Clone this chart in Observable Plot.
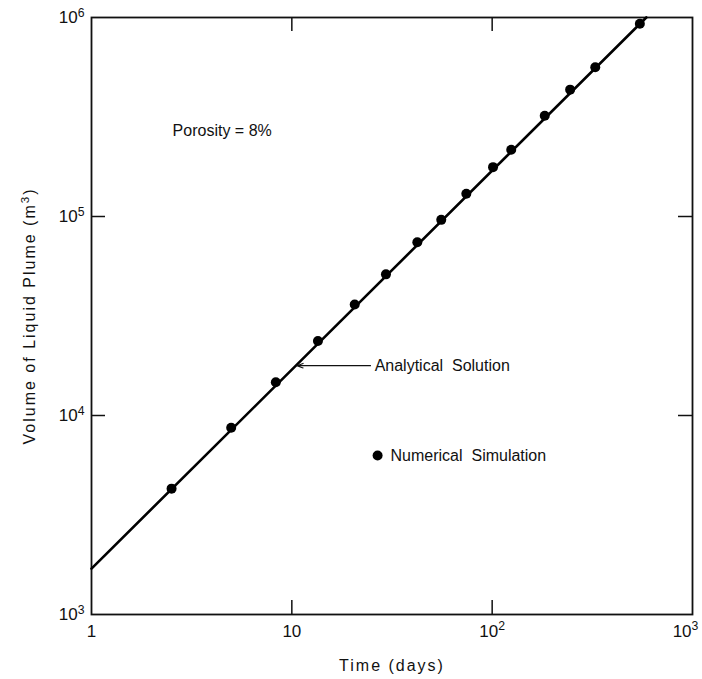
<!DOCTYPE html>
<html>
<head>
<meta charset="utf-8">
<script src="https://cdn.jsdelivr.net/npm/d3@7"></script>
<script src="https://cdn.jsdelivr.net/npm/@observablehq/plot@0.6"></script>
<style>
  html, body { margin: 0; padding: 0; background: #fff; }
</style>
</head>
<body>
<div id="chart"></div>
<script>
// ---- data ----
const xTickValues = [1, 10, 100, 1000];
const xTickLabels = ["1", "10", "10{2}", "10{3}"];
const yTickValues = [1e3, 1e4, 1e5, 1e6];
const yTickLabels = ["10{3}", "10{4}", "10{5}", "10{6}"];
const xInnerTicks = [10, 100];
const yInnerTicks = [1e4, 1e5];

// analytical solution (straight line on log-log)
const analyticalTime = [1, 588];
const analyticalVolume = [1700, 1.0e6];

// numerical simulation points
const numericalTime = [2.51, 4.98, 8.32, 13.5, 20.6, 29.5, 42.3, 55.7, 74.3, 101, 124.5, 183, 245, 327, 546];
const numericalVolume = [4290, 8670, 14700, 23700, 36100, 51200, 74300, 96200, 130000, 177000, 216500, 321000, 434000, 562000, 930000];

// annotations
const annotationText = ["Porosity = 8%", "Analytical  Solution", "Numerical  Simulation"];
const annotationTime = [2.54, 25.9, 31.1];
const annotationVolume = [270000, 17800, 6300];
const arrowFrom = {t: 24.7, v: 17800};
const arrowTo = {t: 10.6, v: 17800};
const legendDot = {t: 26.8, v: 6300};

// ---- build ----
const analytical = analyticalTime.map((t, i) => ({t, v: analyticalVolume[i]}));
const numerical = numericalTime.map((t, i) => ({t, v: numericalVolume[i]}));
const annotations = annotationText.map((text, i) => ({text, t: annotationTime[i], v: annotationVolume[i]}));

const chart = Plot.plot({
  width: 702,
  height: 679,
  marginLeft: 91,
  marginRight: 10,
  marginTop: 17,
  marginBottom: 65,
  style: {fontFamily: "'Liberation Sans', Arial, Helvetica, sans-serif", fontSize: "16px", background: "#fff", color: "#111"},
  x: {type: "log", domain: [1, 1000]},
  y: {type: "log", domain: [1e3, 1e6]},
  marks: [
    Plot.axisX({ticks: xTickValues, tickFormat: (d) => xTickLabels[xTickValues.indexOf(d)], tickSize: 0, tickPadding: 10,
      label: "Time (days)", labelAnchor: "center", labelArrow: "none", labelOffset: 56, fontSize: 17}),
    Plot.axisY({ticks: yTickValues, tickFormat: (d) => yTickLabels[yTickValues.indexOf(d)], tickSize: 0, tickPadding: 7,
      label: "Volume of Liquid Plume (m{3})", labelAnchor: "center", labelArrow: "none", labelOffset: 68, fontSize: 17}),
    // inward ticks
    Plot.tickX(xInnerTicks, {x: (d) => d, insetTop: 583, stroke: "#111", strokeWidth: 1.5}),
    Plot.tickX(xInnerTicks, {x: (d) => d, insetBottom: 583, stroke: "#111", strokeWidth: 1.5}),
    Plot.tickY(yInnerTicks, {y: (d) => d, insetRight: 587, stroke: "#111", strokeWidth: 1.5}),
    Plot.tickY(yInnerTicks, {y: (d) => d, insetLeft: 587, stroke: "#111", strokeWidth: 1.5}),
    Plot.frame({stroke: "#111", strokeWidth: 1.8}),
    Plot.line(analytical, {x: "t", y: "v", stroke: "#000", strokeWidth: 2.6}),
    Plot.dot(numerical, {x: "t", y: "v", r: 5, fill: "#000", stroke: "none"}),
    Plot.arrow([{x1: arrowFrom.t, y1: arrowFrom.v, x2: arrowTo.t, y2: arrowTo.v}],
      {x1: "x1", y1: "y1", x2: "x2", y2: "y2", stroke: "#111", strokeWidth: 1.1, headLength: 9, headAngle: 40}),
    Plot.dot([legendDot], {x: "t", y: "v", r: 5, fill: "#000", stroke: "none"}),
    Plot.text(annotations, {x: "t", y: "v", text: "text", textAnchor: "start", fontSize: 16, fill: "#111"})
  ]
});

// render {k} as superscript
d3.select(chart).selectAll("text").each(function () {
  const el = d3.select(this);
  const tspans = el.selectAll("tspan");
  const nodes = tspans.empty() ? [this] : tspans.nodes();
  nodes.forEach((n) => {
    const s = n.textContent;
    if (!/\{[^}]*\}/.test(s)) return;
    const parts = s.split(/(\{[^}]*\})/).filter((p) => p.length);
    const sel = d3.select(n);
    sel.text(null);
    let prevSup = false;
    parts.forEach((p) => {
      if (p.startsWith("{")) {
        sel.append("tspan").attr("dy", "-0.5em").attr("font-size", "0.72em").text(p.slice(1, -1));
        prevSup = true;
      } else {
        sel.append("tspan").attr("dy", prevSup ? "0.36em" : null).text(p);
        prevSup = false;
      }
    });
  });
});

// axis titles are spaced out in the reference
d3.select(chart).selectAll("g[aria-label='x-axis label'] text, g[aria-label='y-axis label'] text")
  .attr("font-size", 16).attr("letter-spacing", "2px");

// keep the last x tick label (10^3) inside the picture
const xLabels = d3.select(chart).selectAll("g[aria-label='x-axis tick label'] text").nodes();
if (xLabels.length) d3.select(xLabels[xLabels.length - 1]).attr("dx", -7);

document.getElementById("chart").appendChild(chart);
</script>
</body>
</html>
